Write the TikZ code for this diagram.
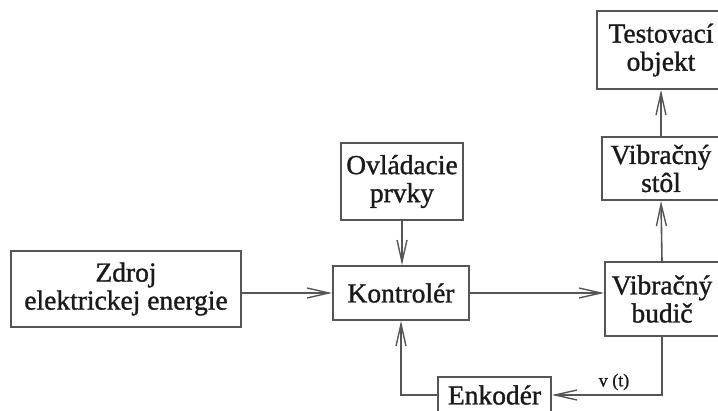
\documentclass[tikz,border=0pt]{standalone}
\usepackage{fontspec}
\setmainfont[FakeBold=1.2]{Liberation Serif}
\usetikzlibrary{arrows.meta}
\definecolor{ln}{HTML}{555555}
\definecolor{tx}{HTML}{1A1A1A}
\begin{document}
\begin{tikzpicture}[x=1pt,y=1pt,
  blk/.style={draw=ln, line width=1.8pt, align=center, inner sep=0pt, text=tx,
    font=\fontsize{27.5}{28}\selectfont},
  conn/.style={draw=ln, line width=1.6pt, -{Straight Barb[length=22pt,width=10pt,line width=1.4pt]}}]
\useasboundingbox (0,0) rectangle (718,410);
\clip (0,0) rectangle (718,410);
\node[blk, minimum width=230pt, minimum height=76pt] (zdroj) at (126,121) {Zdroj\\elektrickej energie};
\node[blk, minimum width=136pt, minimum height=54pt] (kon) at (401,117) {Kontrolér};
\node[blk, minimum width=122pt, minimum height=77pt] (ovl) at (402,228.5) {Ovládacie\\prvky};
\node[blk, minimum width=114pt, minimum height=74pt] (bud) at (662,111) {Vibračný\\budič};
\node[blk, minimum width=118pt, minimum height=63pt] (stol) at (661,241.5) {Vibračný\\stôl};
\node[blk, minimum width=128pt, minimum height=78pt] (obj) at (661,360) {Testovací\\objekt};
\node[blk, minimum width=113pt, minimum height=36pt] (enk) at (494.5,15) {Enkodér};
\draw[conn] (zdroj.east |- kon.west) -- (kon.west);
\draw[conn] (kon.east) -- (kon.east -| bud.west);
\draw[conn] (ovl.south) -- (ovl.south |- kon.north);
\draw[conn] (bud.north) -- (stol.south);
\draw[conn] (stol.north) -- (obj.south);
\draw[conn] (bud.south) |- (enk.east);
\draw[conn] (enk.west) -| (kon.south);
\node[text=tx, font=\fontsize{18}{20}\selectfont, inner sep=0pt] (vt) at (614,28) {v (t)};
\end{tikzpicture}
\end{document}
